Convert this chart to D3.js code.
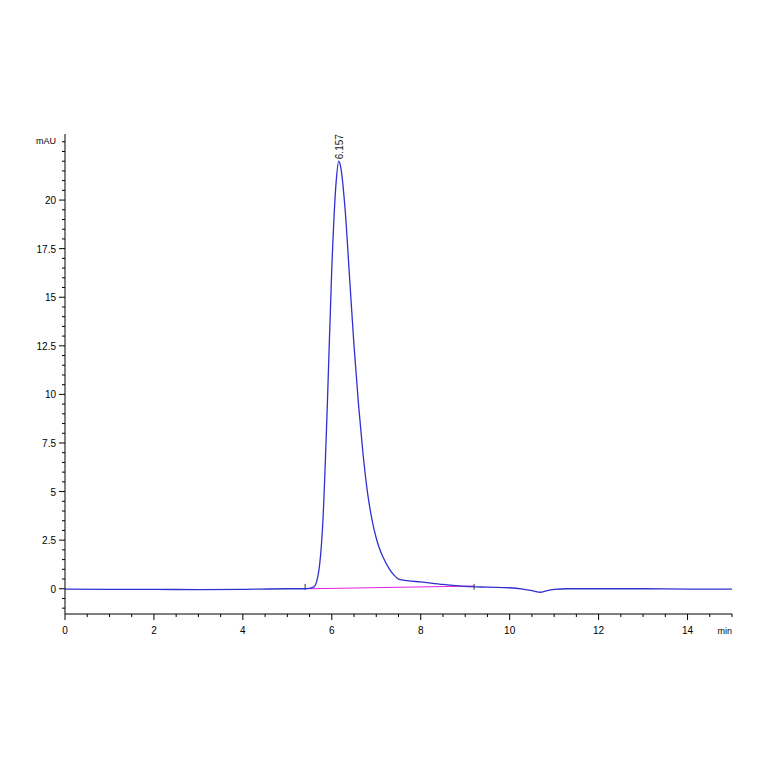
<!DOCTYPE html><html><head><meta charset="utf-8"><script src="https://cdn.jsdelivr.net/npm/d3@7"></script>
<style>body{margin:0;background:#fff}text{font-family:"Liberation Sans",Arial,sans-serif}</style></head><body><svg id="c" width="764" height="764"></svg>
<script>
const times=[0,1,2,3,4,5,5.4,5.6,5.7,5.8,5.9,6.0,6.1,6.157,6.2,6.3,6.4,6.5,6.6,6.7,6.8,6.9,7.0,7.1,7.2,7.3,7.4,7.5,7.7,8.0,8.5,9.0,9.5,10.0,10.3,10.5,10.7,10.8,11.0,11.3,12,13,14,15];
const values=[-0.02,-0.03,-0.03,-0.05,-0.03,0.0,0.0,0.1,0.8,3.5,9.5,16.5,21.0,22.0,21.7,19.5,16.0,12.5,9.5,7.0,5.0,3.6,2.6,1.9,1.4,1.0,0.7,0.5,0.42,0.35,0.22,0.12,0.08,0.05,-0.02,-0.1,-0.18,-0.12,-0.03,0.0,0.0,0.0,-0.02,-0.02];
const baseline=[[5.5,0.0],[9.2,0.14]];
const xTicks=[0,2,4,6,8,10,12,14];
const yTicks=[0,2.5,5,7.5,10,12.5,15,17.5,20];
const peakLabel="6.157", peakT=6.157, peakV=22.0;
const svg=d3.select("#c");
const x=d3.scaleLinear().domain([0,15]).range([65,732]);
const y=d3.scaleLinear().domain([-1.3,23.4]).range([614,134]);
// axes
svg.append("line").attr("x1",65).attr("x2",65).attr("y1",134).attr("y2",614).attr("stroke","#000");
svg.append("line").attr("x1",65).attr("x2",732).attr("y1",614).attr("y2",614).attr("stroke","#000");
d3.range(-1,23.5,0.5).forEach(v=>{const maj=yTicks.includes(v);svg.append("line").attr("x1",maj?59:62).attr("x2",65).attr("y1",y(v)).attr("y2",y(v)).attr("stroke","#000");});
yTicks.forEach(v=>svg.append("text").attr("x",56).attr("y",y(v)+4).attr("text-anchor","end").attr("font-size",10).text(v));
svg.append("text").attr("x",56).attr("y",y(23.4)+10).attr("text-anchor","end").attr("font-size",9).text("mAU");
d3.range(0,15.01,0.5).forEach(v=>{const maj=xTicks.includes(v);svg.append("line").attr("x1",x(v)).attr("x2",x(v)).attr("y1",614).attr("y2",maj?620:617).attr("stroke","#000");});
xTicks.forEach(v=>svg.append("text").attr("x",x(v)).attr("y",634).attr("text-anchor","middle").attr("font-size",10).text(v));
svg.append("text").attr("x",x(15)).attr("y",634).attr("text-anchor","end").attr("font-size",9).text("min");
// baseline
svg.append("line").attr("x1",x(baseline[0][0])).attr("y1",y(baseline[0][1])).attr("x2",x(baseline[1][0])).attr("y2",y(baseline[1][1])).attr("stroke","#e020e0").attr("stroke-width",1.2);
[5.4,9.2].forEach(t=>svg.append("line").attr("x1",x(t)).attr("x2",x(t)).attr("y1",y(0.25)).attr("y2",y(-0.05)).attr("stroke","#333"));
// trace
svg.append("path").datum(times.map((t,i)=>[t,values[i]])).attr("fill","none").attr("stroke","#3030d0").attr("stroke-width",1.3)
 .attr("d",d3.line().x(d=>x(d[0])).y(d=>y(d[1])).curve(d3.curveMonotoneX));
svg.append("text").attr("transform",`translate(${x(peakT)+4},${y(peakV)-2}) rotate(-90)`).attr("font-size",10).attr("fill","#222").text(peakLabel);
</script></body></html>
